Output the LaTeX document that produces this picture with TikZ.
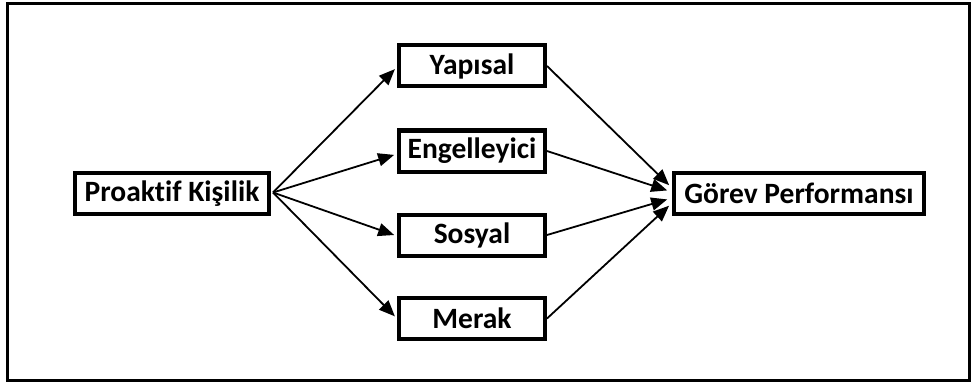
\documentclass[tikz,border=0pt]{standalone}
\usepackage{fontspec}
\setmainfont{Carlito}[Ligatures=NoCommon]
\usetikzlibrary{arrows.meta}
\begin{document}
\begin{tikzpicture}[x=1pt,y=-1pt,
  box/.style={draw=black,line width=4pt,fill=white,inner sep=0pt,
    minimum height=41pt,font=\fontsize{29.5}{32}\selectfont\bfseries},
  midbox/.style={box,minimum width=146pt},
  conn/.style={line width=1.8pt,-{Triangle[length=16pt,width=13pt]}}]
\useasboundingbox (0,0) rectangle (971,385);
\draw[line width=3pt] (7,4) rectangle (969,380);
\node[box,minimum width=194pt] (pk) at (172,193.5) {Proaktif Kişilik};
\node[midbox] (yap) at (472,66) {Yapısal};
\node[midbox] (eng) at (472,151) {Engelleyici};
\node[midbox] (sos) at (472,235) {Sosyal};
\node[midbox] (mer) at (472,318.5) {Merak};
\node[box,minimum width=250pt] (gp) at (799,193.5) {Görev Performansı};
\coordinate (src) at ([xshift=2pt,yshift=1pt]pk.east);
\draw[conn,shorten >=3pt] (src) -- ([yshift=-1pt]yap.west);
\draw[conn,shorten >=3pt] (src) -- ([yshift=-3pt]eng.west);
\draw[conn,shorten >=3pt] (src) -- ([yshift=-1pt]sos.west);
\draw[conn,shorten >=3pt] (src) -- (mer.west);
\draw[conn,shorten >=4pt] (yap.east) -- ([yshift=5.5pt]gp.west);
\draw[conn,shorten >=5pt] (eng.east) -- ([yshift=1.5pt]gp.west);
\draw[conn,shorten >=5pt] (sos.east) -- ([yshift=-4.5pt]gp.west);
\draw[conn,shorten >=4pt] (mer.east) -- ([yshift=-9.5pt]gp.west);
\end{tikzpicture}
\end{document}
